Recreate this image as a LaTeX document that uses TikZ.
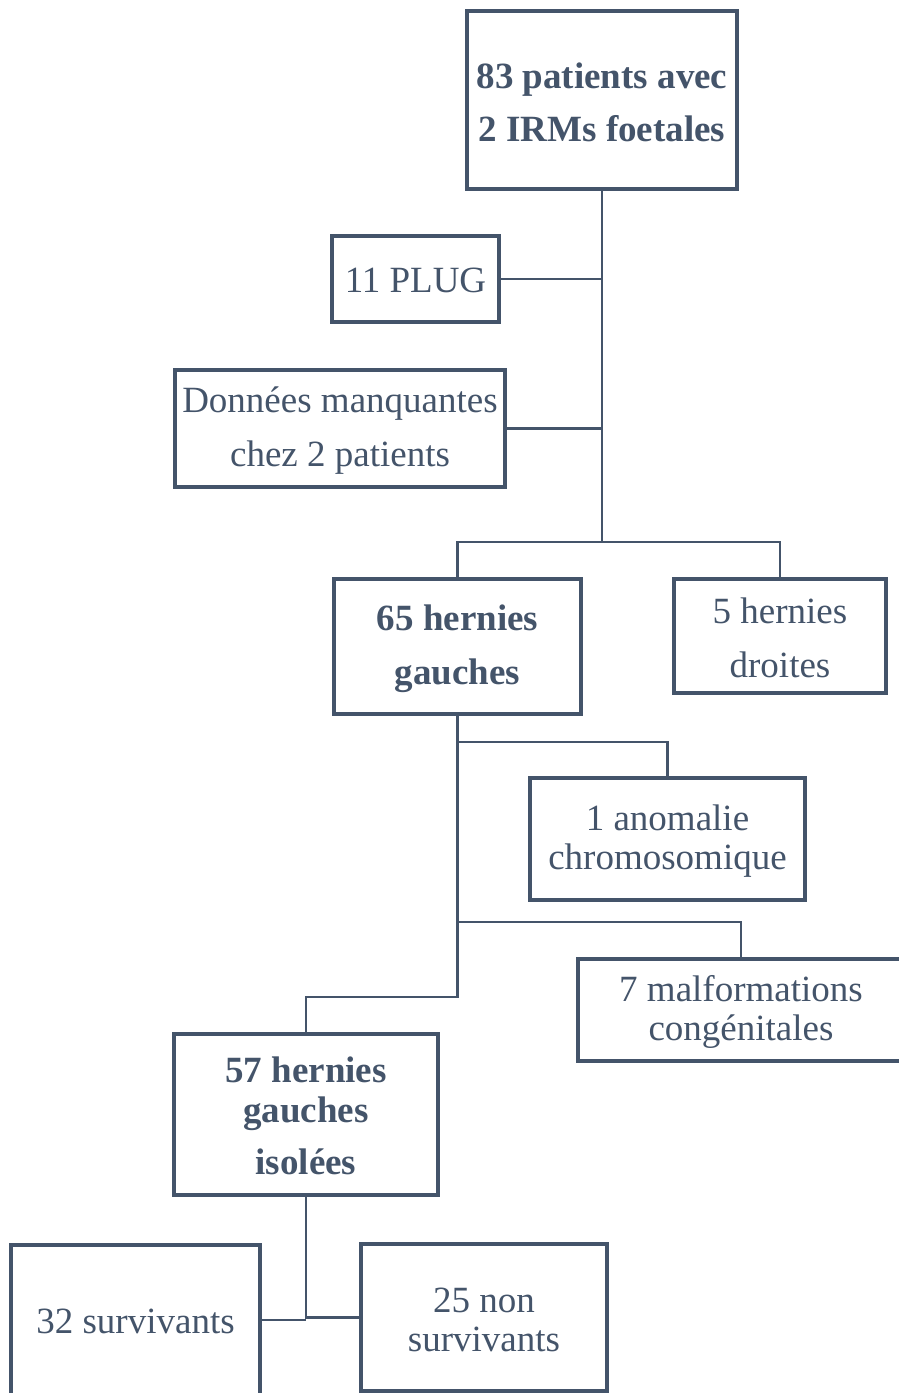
\documentclass[tikz,border=0pt]{standalone}
\usepackage{fontspec}
\setmainfont{Liberation Serif}
\definecolor{slate}{HTML}{44546A}
\begin{document}
\begin{tikzpicture}[x=1pt,y=-1pt,
  box/.style={draw=slate,line width=3.5pt,text=slate,align=center,inner sep=0pt,
     font=\fontsize{37}{54}\selectfont},
  tight/.style={font=\fontsize{37}{39}\selectfont},
  conn/.style={draw=slate,line width=2.4pt},
  lbl/.style={text=slate,align=center,inner sep=0pt}]
\clip (0,0) rectangle (899,1393);
\fill[white] (0,0) rectangle (899,1393);
\node[box,minimum width=270pt,minimum height=178pt,font=\fontsize{37}{53}\selectfont\bfseries] (top) at (602,100) {};
\node[lbl,font=\fontsize{37}{53}\selectfont\bfseries] (topt) at (602,102) {83 patients avec\\2 IRMs foetales};
\node[box,minimum width=167pt,minimum height=86pt] (plug) at (415.5,279) {};
\node[lbl,font=\fontsize{37}{54}\selectfont] (plugt) at (415.5,280) {11 PLUG};
\node[box,minimum width=330pt,minimum height=117pt] (don) at (340,428.5) {};
\node[lbl,font=\fontsize{37}{54}\selectfont] (dont) at (340,431) {Données manquantes\\chez 2 patients};
\node[box,minimum width=247pt,minimum height=135pt] (g65) at (457.5,646.5) {};
\node[lbl,font=\fontsize{37}{54}\selectfont\bfseries] (g65t) at (457.5,649) {65 hernies\\gauches};
\node[box,minimum width=212pt,minimum height=114pt] (d5) at (780,636) {};
\node[lbl,font=\fontsize{37}{54}\selectfont] (d5t) at (780,638) {5 hernies\\droites};
\node[box,minimum width=275pt,minimum height=122pt] (anom) at (667.5,839) {};
\node[lbl,font=\fontsize{37}{39}\selectfont] (anomt) at (667.5,841) {1 anomalie\\chromosomique};
\node[box,minimum width=326pt,minimum height=102pt] (malf) at (741,1010) {};
\node[lbl,font=\fontsize{37}{39}\selectfont] (malft) at (741,1012) {7 malformations\\congénitales};
\node[box,minimum width=264pt,minimum height=161pt] (g57) at (306,1114.5) {};
\node[lbl,font=\fontsize{37}{40}\selectfont\bfseries] (g57t) at (306,1116) {57 hernies\\gauches\\[12pt]isolées};
\node[box,minimum width=249pt,minimum height=150pt] (s32) at (135.5,1320) {};
\node[lbl,font=\fontsize{37}{54}\selectfont] (s32t) at (135.5,1321) {32 survivants};
\node[box,minimum width=246pt,minimum height=147pt] (n25) at (484,1317.5) {};
\node[lbl,font=\fontsize{37}{39}\selectfont] (n25t) at (484,1320) {25 non\\survivants};
\coordinate (jA) at (602,542);
\coordinate (b1) at (457.5,742);
\coordinate (b2) at (457.5,922);
\coordinate (jB) at (457.5,997);
\coordinate (jC) at (306,1319);
\draw[conn] (top.south) -- (jA);
\draw[conn] (plug.east) -- (plug.east -| jA);
\draw[conn] (don.east) -- (don.east -| jA);
\draw[conn] (g65.north) |- (jA) -| (d5.north);
\draw[conn] (g65.south) -- (jB) -| (g57.north);
\draw[conn] (b1) -| (anom.north);
\draw[conn] (b2) -| (malf.north);
\draw[conn] (g57.south) -- (jC);
\draw[conn] (s32.east) -- (s32.east -| jC);
\draw[conn] (n25.west) -- (n25.west -| jC);
\end{tikzpicture}
\end{document}
